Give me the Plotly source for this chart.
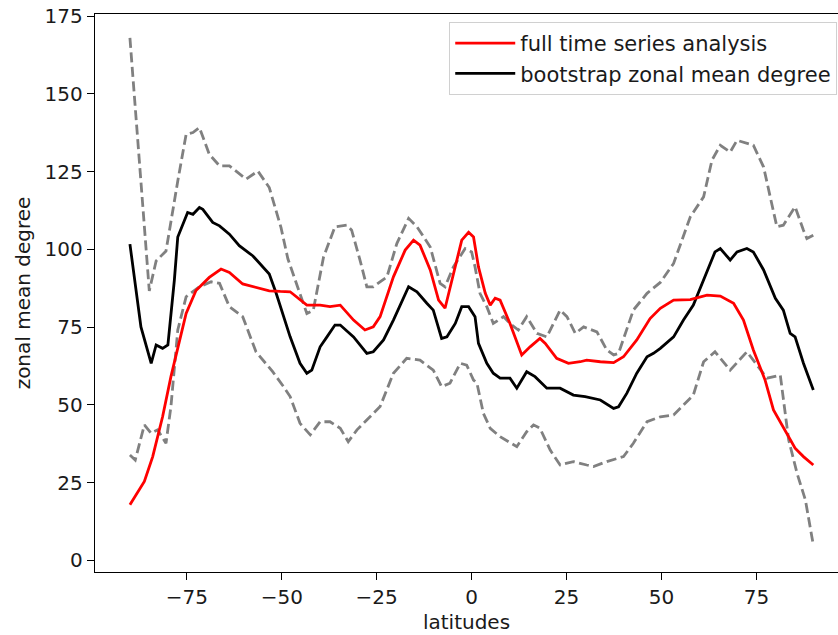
import plotly.graph_objects as go

# ---- data ----
lat_red = [-90, -86.2, -84.0, -81.4, -79.2, -77.4, -75.2, -72.6, -69.1, -66.0, -63.8, -60.3, -56.8,
           -53.3, -50.4, -47.8, -43.4, -39.9, -37.3, -34.6, -31.1, -28.1, -25.9, -24.1, -20.6,
           -17.5, -15.3, -13.6, -10.9, -8.7, -7.0, -4.8, -2.6, -0.8, 0.5, 1.8, 3.6, 4.9, 6.2,
           7.5, 10.1, 13.2, 15.4, 18.0, 19.4, 22.4, 25.5, 28.6, 30.3, 33.9, 37.4, 40.0, 43.5,
           47.0, 49.7, 53.2, 57.6, 62.0, 65.5, 69.0, 71.6, 74.2, 77.3, 79.5, 83.0, 85.2, 87.4, 90]
full_series = [17.9, 25.4, 33.4, 46.2, 59.1, 68.7, 79.4, 86.8, 91.0, 93.7, 92.6, 88.9, 87.8,
               86.7, 86.5, 86.4, 82.1, 82.1, 81.6, 82.1, 77.3, 74.1, 75.1, 78.4, 91.2,
               99.8, 103.0, 101.4, 93.4, 83.7, 81.1, 92.3, 103.0, 105.5, 104.0, 94.4, 85.9, 82.1, 84.3,
               83.7, 76.2, 66.1, 68.7, 71.4, 69.8, 65.0, 63.4, 63.9, 64.4, 63.9, 63.6, 65.5, 70.9,
               77.8, 81.1, 83.7, 83.9, 85.3, 85.0, 82.7, 77.3, 67.7, 58.0, 48.4, 40.9, 36.1, 33.4, 30.7]

lat_boot = [-90, -88.8, -87.1, -84.4, -83.1, -81.4, -80.0, -78.3, -77.4, -74.8, -73.4, -71.7, -70.8,
            -68.2, -66.4, -63.8, -61.2, -57.6, -55.0, -53.3, -51.5, -47.8, -45.2, -43.4, -42.1,
            -39.9, -38.1, -36.0, -34.6, -31.1, -27.6, -25.9, -23.2, -20.6, -16.6, -14.4, -11.8,
            -10.1, -7.9, -6.5, -4.3, -2.6, -0.8, 0.9, 1.8, 4.0, 5.7, 7.5, 10.1, 11.9, 14.5, 16.7,
            19.8, 23.3, 26.8, 29.9, 33.9, 37.4, 38.7, 40.9, 43.5, 46.2, 47.9, 49.7, 53.2, 55.8,
            58.4, 61.1, 64.1, 65.5, 68.1, 69.9, 72.5, 74.2, 76.9, 80.0, 82.1, 83.9, 85.2, 87.4, 90]
boot_mean = [101.7, 90.1, 75.1, 63.4, 69.3, 68.2, 69.3, 90.1, 104.0, 111.9, 111.3, 113.5, 112.9,
             108.7, 107.6, 104.9, 101.2, 97.9, 94.2, 92.1, 86.0, 71.9, 63.4, 60.2, 61.2,
             68.7, 71.9, 75.7, 75.7, 71.9, 66.6, 67.1, 70.9, 77.3, 88.0, 86.4, 82.7,
             80.5, 71.4, 71.9, 76.2, 81.6, 81.6, 78.4, 69.8, 63.4, 60.2, 58.6, 58.6, 55.4, 60.7, 59.1,
             55.4, 55.4, 53.2, 52.7, 51.6, 48.9, 49.4, 53.8, 60.2, 65.5, 66.6, 68.2, 71.9, 77.3,
             82.1, 90.1, 99.2, 100.3, 96.6, 99.2, 100.3, 99.2, 93.4, 84.3, 80.5, 73.0, 71.9, 63.4, 54.8]

lat_upper = [-90, -84.9, -83.1, -80.5, -77.4, -75.2, -73.4, -71.7, -69.1, -66.4, -63.8, -59.4, -56.3,
             -53.3, -50.2, -48.4, -43.4, -41.7, -39.0, -36.0, -32.9, -31.6, -29.4, -27.6, -25.9,
             -22.3, -19.7, -16.6, -14.4, -10.9, -8.3, -7.0, -4.8, -1.7, 0.0, 0.9, 2.2, 4.0, 5.7,
             8.4, 10.1, 12.3, 14.5, 17.2, 19.8, 23.3, 25.1, 27.3, 29.5, 33.0, 35.6, 37.4, 38.7,
             40.9, 42.6, 46.2, 49.7, 53.2, 57.6, 61.1, 63.3, 65.5, 68.1, 69.9, 74.2, 76.9, 79.1,
             80.4, 82.1, 85.2, 87.4, 88.3, 90]
upper_bound = [168.0, 86.7, 96.3, 99.5, 122.0, 137.0, 137.6, 139.2, 130.6, 126.9, 126.9, 122.6, 125.2,
               119.9, 107.0, 97.0, 79.4, 80.5, 97.6, 107.3, 107.8, 106.2, 96.6, 88.0, 88.0,
               91.2, 101.9, 110.0, 107.3, 100.8, 89.1, 88.0, 94.4, 100.3, 99.2, 94.4, 85.9, 81.6, 76.2,
               78.4, 76.2, 74.1, 78.4, 73.0, 71.9, 80.5, 78.4, 73.0, 75.1, 73.5, 67.7, 66.1, 66.6,
               74.1, 80.5, 85.9, 89.4, 95.5, 110.5, 116.9, 128.7, 133.5, 131.3, 135.1, 133.5, 126.5, 114.8,
               107.3, 107.8, 113.7, 106.2, 103.5, 104.6]

lat_lower = [-90, -88.6, -86.2, -84.4, -82.7, -80.5, -79.2, -77.4, -75.2, -71.7, -68.6, -66.4, -63.8,
             -60.3, -56.8, -52.4, -49.6, -47.8, -45.2, -42.5, -39.9, -37.3, -34.6, -32.5, -30.2,
             -26.7, -24.1, -20.6, -17.1, -13.6, -10.1, -7.9, -5.7, -3.0, -1.3, 0.5, 1.4, 3.1, 4.9,
             7.5, 11.9, 14.5, 16.3, 18.0, 20.7, 23.3, 26.8, 30.3, 32.1, 35.6, 40.0, 42.6, 46.2,
             49.7, 53.2, 58.4, 61.1, 64.1, 68.1, 72.5, 77.8, 81.3, 83.5, 85.7, 87.9, 90]
lower_bound = [33.9, 32.3, 43.6, 40.9, 42.0, 37.7, 49.5, 74.1, 84.8, 88.0, 89.6, 89.1, 81.6,
               78.4, 67.1, 60.7, 56.0, 52.7, 44.1, 40.4, 44.6, 44.6, 42.5, 38.2, 42.0,
               46.2, 49.5, 60.2, 65.0, 64.4, 61.2, 55.9, 57.0, 63.4, 62.8, 58.0, 57.0, 47.3, 42.5,
               39.8, 36.6, 41.4, 43.6, 42.5, 35.5, 30.7, 31.8, 30.7, 30.2, 31.8, 33.4, 37.7, 44.6,
               46.2, 46.8, 53.2, 63.9, 67.1, 61.2, 67.1, 58.6, 59.6, 38.8, 28.1, 19.5, 5.0]

x_ticks = [-75, -50, -25, 0, 25, 50, 75]
x_tick_labels = ["\u221275", "\u221250", "\u221225", "0", "25", "50", "75"]
y_ticks = [0, 25, 50, 75, 100, 125, 150, 175]

FONT = "DejaVu Sans"
FS = 20
LW = 2.8
DASH = "10px,4.5px"
TXT = "#1a1a1a"

fig = go.Figure()
fig.add_trace(go.Scatter(x=lat_upper, y=upper_bound, mode="lines", showlegend=False,
                         line=dict(color="#808080", width=LW, dash=DASH)))
fig.add_trace(go.Scatter(x=lat_lower, y=lower_bound, mode="lines", showlegend=False,
                         line=dict(color="#808080", width=LW, dash=DASH)))
fig.add_trace(go.Scatter(x=lat_boot, y=boot_mean, mode="lines", showlegend=False,
                         line=dict(color="black", width=LW)))
fig.add_trace(go.Scatter(x=lat_red, y=full_series, mode="lines", name="full time series analysis",
                         line=dict(color="red", width=LW)))
# legend-only entry for the bootstrap line (keeps legend order red then black)
fig.add_trace(go.Scatter(x=[None], y=[None], mode="lines", name="bootstrap zonal mean degree",
                         line=dict(color="black", width=LW)))

fig.update_layout(
    width=838, height=635,
    margin=dict(l=95, r=0, t=13.5, b=62.7),
    paper_bgcolor="white", plot_bgcolor="white",
    font=dict(family=FONT, size=FS, color=TXT),
    showlegend=True,
    legend=dict(x=0.9987, xanchor="right", y=0.986, yanchor="top",
                bgcolor="rgba(255,255,255,0.8)", bordercolor="#d0d0d0", borderwidth=1.2,
                font=dict(family=FONT, size=21, color=TXT),
                tracegroupgap=0, itemwidth=60),
    xaxis=dict(range=[-99.2, 96.5], tickmode="array", tickvals=x_ticks, ticktext=x_tick_labels,
               automargin=False,
               showgrid=False, zeroline=False, showline=True, linecolor="black", linewidth=1.4,
               mirror=True, ticks="outside", ticklen=7, tickwidth=1.4, tickcolor="black",
               tickfont=dict(family=FONT, size=FS, color=TXT),
               title=dict(text="latitudes", font=dict(family=FONT, size=FS, color=TXT), standoff=6)),
    yaxis=dict(range=[-3.7, 175.7], tickmode="array", tickvals=y_ticks,
               automargin=False, ticklabeloverflow="allow",
               showgrid=False, zeroline=False, showline=True, linecolor="black", linewidth=1.4,
               mirror=False, ticks="outside", ticklen=7, tickwidth=1.4, tickcolor="black",
               tickfont=dict(family=FONT, size=FS, color=TXT),
               title=dict(text="zonal mean degree", font=dict(family=FONT, size=FS, color=TXT), standoff=8)),
)

# remove the page's default 8px body margin so the figure sits at the window origin
fig.write_html("out.html", config={"displayModeBar": False},
               post_script="document.body.style.margin='0';")
